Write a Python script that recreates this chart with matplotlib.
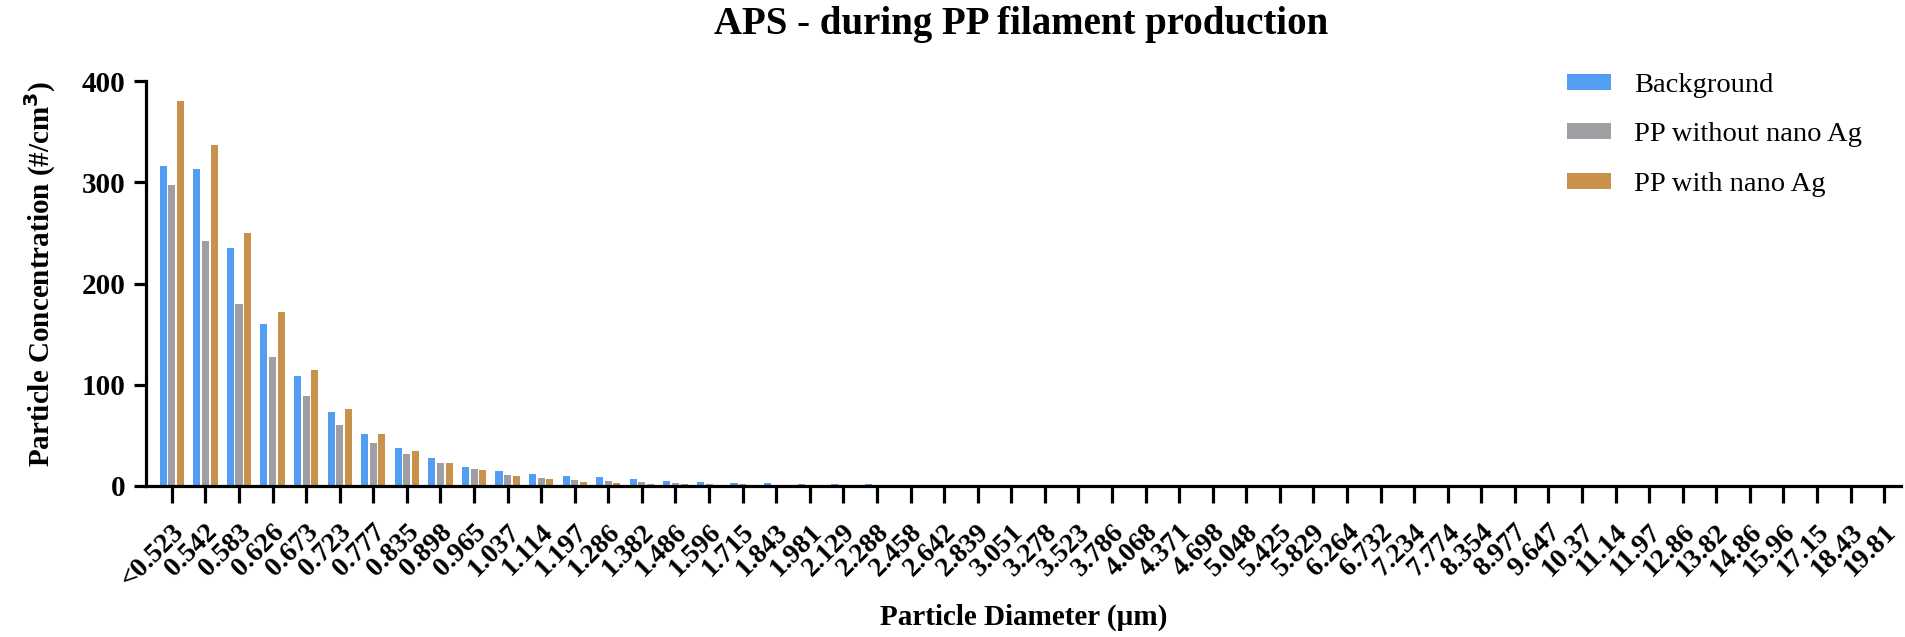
import matplotlib
matplotlib.use("Agg")
import matplotlib.pyplot as plt
import matplotlib.transforms as mtransforms
from matplotlib.patches import Patch
import numpy as np

# Particle size bins (um)
diameters = ['<0.523', '0.542', '0.583', '0.626', '0.673', '0.723', '0.777', '0.835',
             '0.898', '0.965', '1.037', '1.114', '1.197', '1.286', '1.382', '1.486',
             '1.596', '1.715', '1.843', '1.981', '2.129', '2.288', '2.458', '2.642',
             '2.839', '3.051', '3.278', '3.523', '3.786', '4.068', '4.371', '4.698',
             '5.048', '5.425', '5.829', '6.264', '6.732', '7.234', '7.774', '8.354',
             '8.977', '9.647', '10.37', '11.14', '11.97', '12.86', '13.82', '14.86',
             '15.96', '17.15', '18.43', '19.81']

# Concentrations (#/cm3)
background = [316, 313, 235, 160, 109, 73, 51, 37.5, 27.5, 18.5, 15, 12, 10, 8.6, 6.9, 5.3,
              4, 2.8, 2.5, 2.2, 1.7, 1.6, 1.4, 0.8, 0.5, 0.4, 0.3, 0.2, 0.2, 0.15, 0.1, 0.1,
              0.1, 0.05, 0.05, 0.05, 0, 0, 0, 0, 0, 0, 0, 0, 0, 0, 0, 0, 0, 0, 0, 0]
pp_without = [297, 242, 180, 127, 89, 60, 42, 32, 22.5, 16.5, 11, 8, 5.8, 4.9, 3.6, 3,
              1.8, 1.6, 1.4, 1.3, 0.5, 0.4, 0.3, 0.2, 0.1, 0.1, 0.05, 0.05, 0, 0, 0, 0,
              0, 0, 0, 0, 0, 0, 0, 0, 0, 0, 0, 0, 0, 0, 0, 0, 0, 0, 0, 0]
pp_with = [380, 337, 250, 172, 115, 76, 51, 35, 23, 15.5, 9.5, 6.6, 4, 3.2, 2, 1.6,
           1.4, 1, 0.9, 0.8, 0.4, 0.3, 0.2, 0.1, 0.05, 0.05, 0, 0, 0, 0, 0, 0,
           0, 0, 0, 0, 0, 0, 0, 0, 0, 0, 0, 0, 0, 0, 0, 0, 0, 0, 0, 0]

series_names = ['Background', 'PP without nano Ag', 'PP with nano Ag']
colors = ['#529ef3', '#9f9fa3', '#c8924d']

serif = 'Liberation Serif'

fig = plt.figure(figsize=(19.06, 6.37), dpi=100)
ax = fig.add_axes([146 / 1906, 1 - 486 / 637, (1901 - 146) / 1906, (486 - 81) / 637])

x = np.arange(len(diameters))
bw = 0.21
offsets = [-0.257, 0.0, 0.257]
for vals, off, col in zip([background, pp_without, pp_with], offsets, colors):
    ax.bar(x + off, vals, width=bw, color=col, edgecolor='none', zorder=2)

ax.set_xlim(-0.77, 51.5)
ax.set_ylim(0, 400)
ax.set_yticks([0, 100, 200, 300, 400])

for s in ['top', 'right']:
    ax.spines[s].set_visible(False)
for s in ['left', 'bottom']:
    ax.spines[s].set_linewidth(2.3)

ax.tick_params(axis='y', length=8.6, width=2.3, pad=6, labelsize=21)
ax.tick_params(axis='x', length=12, width=2.3, pad=12, labelsize=20)
ax.set_xticks(x)
ax.set_xticklabels(diameters, rotation=45, ha='right', va='top', rotation_mode='default')
# nudge the rotated labels so their ends sit just right of each tick
shift = mtransforms.ScaledTranslation(17 / 100, 0, fig.dpi_scale_trans)
for lab in ax.get_xticklabels():
    lab.set_fontfamily(serif)
    lab.set_fontweight('bold')
    lab.set_transform(lab.get_transform() + shift)
for lab in ax.get_yticklabels():
    lab.set_fontfamily(serif)
    lab.set_fontweight('bold')

fig.text(0.536, 1 - 34 / 637, 'APS - during PP filament production', ha='center', va='baseline',
         fontsize=28, fontweight='bold', family=serif)
fig.text(0.021, 0.571, 'Particle Concentration (#/cm$^\\mathbf{3}$)', rotation=90, ha='center',
         va='center', fontsize=21, fontweight='bold', family=serif)
fig.text(0.537, 0.031, 'Particle Diameter (\u00b5m)', ha='center', va='center',
         fontsize=21, fontweight='bold', family=serif)

handles = [Patch(facecolor=c, edgecolor='none') for c in colors]
fig.legend(handles, series_names, loc='upper left', bbox_to_anchor=(1567 / 1906, 1 - 73 / 637),
           frameon=False, borderpad=0, borderaxespad=0, handlelength=1.55, handleheight=0.5,
           handletextpad=0.8, labelspacing=0.86, prop={'family': serif, 'size': 20.5})

fig.savefig('out.png', dpi=100)
